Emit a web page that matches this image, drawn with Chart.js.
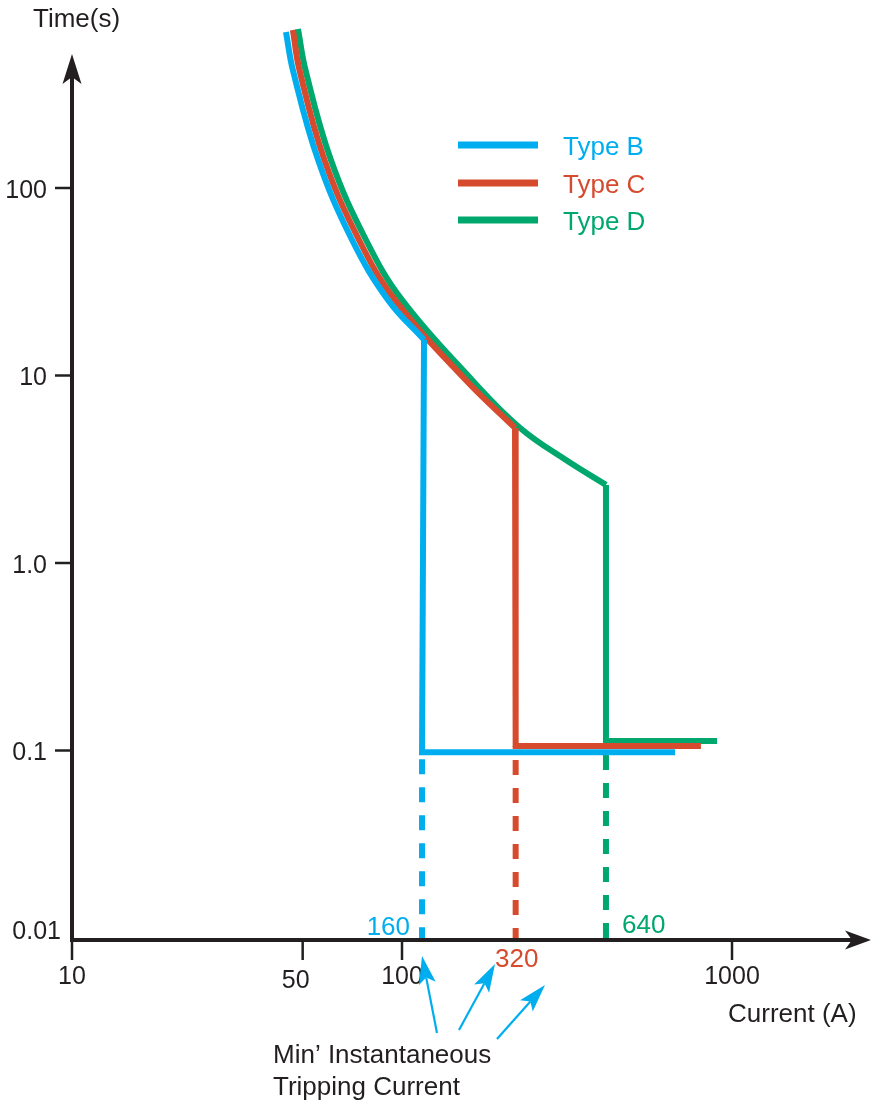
<!DOCTYPE html>
<html>
<head>
<meta charset="utf-8">
<script src="https://cdn.jsdelivr.net/npm/chart.js@4.4.1/dist/chart.umd.min.js"></script>
<style>
html,body{margin:0;padding:0;background:#fff;}
#wrap{width:872px;height:1103px;position:relative;}
canvas{display:block;}
</style>
</head>
<body>
<div id="wrap"><canvas id="c" width="872" height="1103"></canvas></div>
<script>
// ---- data ----
const typeLabels = ['Type B', 'Type C', 'Type D'];

// thermal (curved) part of each characteristic: current (A) / time (s)
const curveB_I = [44.5, 46.7, 55.7, 70.6, 90.7, 116.6];
const curveB_t = [679, 426, 141, 52.8, 25.3, 15.5];
const curveC_I = [46.7, 48.9, 58.2, 74.1, 95.2, 156, 220];
const curveC_t = [696, 426, 141, 52.8, 25.3, 9.46, 5.25];
const curveD_I = [48.4, 51.0, 60.9, 77.8, 100, 163, 228, 314, 415];
const curveD_t = [705, 426, 141, 52.8, 25.3, 9.46, 5.25, 3.54, 2.61];

// magnetic (step) part of each characteristic
const stepB_I = [116.6, 115, 672];
const stepB_t = [15.5, 0.098, 0.098];
const stepC_I = [220, 221, 805];
const stepC_t = [5.25, 0.1057, 0.1057];
const stepD_I = [415, 415, 901];
const stepD_t = [2.61, 0.1124, 0.1124];

// dashed drop lines to the current axis
const tripI = [115, 221, 415];
const tripTop_t = [0.098, 0.1057, 0.1124];
const tripLabels = ['160', '320', '640'];

// axis ticks
const xTicks = [10, 50, 100, 1000];
const xTickLabels = ['10', '50', '100', '1000'];
const yTicks = [100, 10, 1, 0.1, 0.01];
const yTickLabels = ['100', '10', '1.0', '0.1', '0.01'];

// ---- styling ----
const BLUE = '#00AEEF', RED = '#D64A2E', GREEN = '#00A86E', INK = '#231F20';
const COLORS = [BLUE, RED, GREEN];
const FONT = '"Liberation Sans", Arial, Helvetica, sans-serif';

function pts(xs, ys) { return xs.map((x, i) => ({ x: x, y: ys[i] })); }

const curves = [[curveB_I, curveB_t], [curveC_I, curveC_t], [curveD_I, curveD_t]];
const steps = [[stepB_I, stepB_t], [stepC_I, stepC_t], [stepD_I, stepD_t]];
const dashOffsets = [21, 14, 14];

const datasets = [];
for (let i = 0; i < 3; i++) {
  datasets.push({
    label: typeLabels[i],
    data: pts(curves[i][0], curves[i][1]),
    borderColor: COLORS[i], borderWidth: 6, showLine: true,
    tension: 0.4, pointRadius: 0,
    borderCapStyle: 'butt', borderJoinStyle: 'round'
  });
  datasets.push({
    label: typeLabels[i] + ' step',
    data: pts(steps[i][0], steps[i][1]),
    borderColor: COLORS[i], borderWidth: 6, showLine: true,
    tension: 0, pointRadius: 0,
    borderCapStyle: 'butt', borderJoinStyle: 'miter'
  });
}
for (let i = 0; i < 3; i++) {
  datasets.push({
    label: typeLabels[i] + ' trip',
    data: [{ x: tripI[i], y: tripTop_t[i] }, { x: tripI[i], y: yTicks[yTicks.length - 1] }],
    borderColor: COLORS[i], borderWidth: 6, showLine: true,
    borderDash: [15, 13], borderDashOffset: dashOffsets[i],
    pointRadius: 0, borderCapStyle: 'butt'
  });
}

function arrowHead(ctx, x0, y0, x1, y1, len, halfW, notch, color) {
  const a = Math.atan2(y1 - y0, x1 - x0);
  const c = Math.cos(a), s = Math.sin(a);
  const bx = x1 - c * len, by = y1 - s * len;
  ctx.save();
  ctx.fillStyle = color;
  ctx.beginPath();
  ctx.moveTo(x1, y1);
  ctx.lineTo(bx - s * halfW, by + c * halfW);
  ctx.lineTo(x1 - c * (len - notch), y1 - s * (len - notch));
  ctx.lineTo(bx + s * halfW, by - c * halfW);
  ctx.closePath();
  ctx.fill();
  ctx.restore();
}

function arrow(ctx, x0, y0, x1, y1, lw, len, halfW, notch, color) {
  const a = Math.atan2(y1 - y0, x1 - x0);
  ctx.save();
  ctx.strokeStyle = color; ctx.lineWidth = lw; ctx.lineCap = 'butt';
  ctx.beginPath();
  ctx.moveTo(x0, y0);
  ctx.lineTo(x1 - Math.cos(a) * (len - notch), y1 - Math.sin(a) * (len - notch));
  ctx.stroke();
  ctx.restore();
  arrowHead(ctx, x0, y0, x1, y1, len, halfW, notch, color);
}

const decor = {
  id: 'decor',
  afterDatasetsDraw(chart) {
    const ctx = chart.ctx;
    const xs = chart.scales.x, ys = chart.scales.y;
    const ax = xs.getPixelForValue(xTicks[0]);
    const ay = ys.getPixelForValue(yTicks[yTicks.length - 1]) + 2;
    ctx.save();
    // axes
    ctx.strokeStyle = INK; ctx.lineWidth = 4; ctx.lineCap = 'butt';
    ctx.beginPath();
    ctx.moveTo(ax, ay + 2); ctx.lineTo(ax, 76);
    ctx.moveTo(ax - 2, ay); ctx.lineTo(852, ay);
    ctx.stroke();
    arrowHead(ctx, ax, 200, ax, 54, 30, 9.5, 7, INK);
    arrowHead(ctx, 700, ay, 871, ay, 26, 9.5, 7, INK);

    // y ticks and labels
    ctx.lineWidth = 2.5;
    ctx.fillStyle = INK;
    ctx.font = '25px ' + FONT;
    ctx.textBaseline = 'alphabetic';
    yTicks.forEach((v, i) => {
      const py = ys.getPixelForValue(v);
      if (i < yTicks.length - 1) {
        ctx.beginPath(); ctx.moveTo(ax - 17, py); ctx.lineTo(ax, py); ctx.stroke();
        ctx.textAlign = 'right';
        ctx.fillText(yTickLabels[i], ax - 25, py + 10);
      } else {
        ctx.textAlign = 'right';
        ctx.fillText(yTickLabels[i], ax - 11, py + 1);
      }
    });
    // x ticks and labels
    xTicks.forEach((v, i) => {
      const px = xs.getPixelForValue(v);
      ctx.beginPath(); ctx.moveTo(px, ay); ctx.lineTo(px, ay + 20); ctx.stroke();
      ctx.textAlign = 'center';
      ctx.fillText(xTickLabels[i], px - (i === 1 ? 7 : 0), i === 1 ? 988 : 984);
    });

    // axis titles
    ctx.font = '26px ' + FONT;
    ctx.textAlign = 'left';
    ctx.fillText('Time(s)', 33, 27);
    ctx.fillText('Current (A)', 728, 1022);

    // legend
    for (let i = 0; i < 3; i++) {
      const ly = [145, 183, 220][i];
      ctx.strokeStyle = COLORS[i]; ctx.lineWidth = 7;
      ctx.beginPath(); ctx.moveTo(458, ly); ctx.lineTo(538, ly); ctx.stroke();
      ctx.fillStyle = COLORS[i];
      ctx.textAlign = 'left';
      ctx.fillText(typeLabels[i], 563, ly + 10);
    }

    // tripping current labels
    const pB = xs.getPixelForValue(tripI[0]);
    const pC = xs.getPixelForValue(tripI[1]);
    const pD = xs.getPixelForValue(tripI[2]);
    ctx.fillStyle = BLUE; ctx.textAlign = 'right';
    ctx.fillText(tripLabels[0], pB - 12, 935);
    ctx.fillStyle = RED; ctx.textAlign = 'center';
    ctx.fillText(tripLabels[1], pC + 1, 967);
    ctx.fillStyle = GREEN; ctx.textAlign = 'left';
    ctx.fillText(tripLabels[2], pD + 16, 933);

    // annotation
    ctx.fillStyle = INK; ctx.textAlign = 'left';
    ctx.fillText('Min\u2019 Instantaneous', 273, 1063);
    ctx.fillText('Tripping Current', 273, 1095);
    arrow(ctx, 437, 1033, 422, 956, 2.2, 28, 8.5, 6, BLUE);
    arrow(ctx, 459, 1030, 495, 964, 2.2, 28, 8.5, 6, BLUE);
    arrow(ctx, 497, 1039, 545, 985, 2.2, 28, 8.5, 6, BLUE);
    ctx.restore();
  }
};

new Chart(document.getElementById('c'), {
  type: 'scatter',
  data: { datasets: datasets },
  options: {
    responsive: false,
    animation: false,
    devicePixelRatio: 1,
    layout: { padding: { left: 72, right: 2, top: 20, bottom: 165 } },
    plugins: { legend: { display: false }, tooltip: { enabled: false }, title: { display: false } },
    scales: {
      x: { type: 'logarithmic', min: 10, max: 2619, bounds: 'data', display: false },
      y: { type: 'logarithmic', min: 0.01, max: 787, bounds: 'data', display: false }
    }
  },
  plugins: [decor]
});
</script>
</body>
</html>
